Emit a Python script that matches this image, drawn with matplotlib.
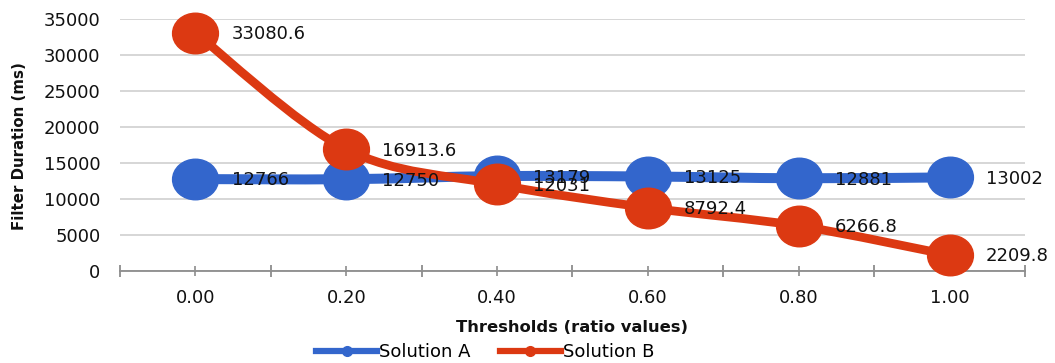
import matplotlib
matplotlib.use("Agg")
import matplotlib.pyplot as plt
import numpy as np
from matplotlib.path import Path
from matplotlib.patches import PathPatch
from matplotlib.lines import Line2D

categories = ["0.00", "0.20", "0.40", "0.60", "0.80", "1.00"]
solution_a = [12766, 12750, 13179, 13125, 12881, 13002]
solution_b = [33080.6, 16913.6, 12031, 8792.4, 6266.8, 2209.8]
labels_a = ["12766", "12750", "13179", "13125", "12881", "13002"]
labels_b = ["33080.6", "16913.6", "12031", "8792.4", "6266.8", "2209.8"]
yticks = [0, 5000, 10000, 15000, 20000, 25000, 30000, 35000]

BLUE = "#3366CC"
RED = "#DC3912"
W, H = 1055, 363
plt.rcParams["font.family"] = ["DejaVu Sans"]

fig = plt.figure(figsize=(W / 100, H / 100), dpi=100)
ax = fig.add_axes([120 / W, (H - 271) / H, 905 / W, 252 / H])
x = np.arange(len(categories))
ax.set_xlim(-0.5, len(categories) - 0.5)
ax.set_ylim(0, 35000)

# ellipse marker (reference is slightly stretched horizontally)
circ = Path.unit_circle()
ell = Path(circ.vertices * np.array([1.13, 1.0]), circ.codes)


def smooth_patch(xs, ys, color, lw, z):
    pts = ax.transData.transform(np.column_stack([xs, ys]))
    n = len(pts)
    verts = [pts[0]]
    codes = [Path.MOVETO]
    for i in range(n - 1):
        pm = pts[max(i - 1, 0)]
        p0 = pts[i]
        p1 = pts[i + 1]
        p2 = pts[min(i + 2, n - 1)]
        c1 = p0 + (p1 - pm) / 6.0
        c2 = p1 - (p2 - p0) / 6.0
        verts += [c1, c2, p1]
        codes += [Path.CURVE4] * 3
    verts = ax.transAxes.inverted().transform(np.array(verts))
    patch = PathPatch(Path(verts, codes), facecolor="none", edgecolor=color,
                      lw=lw, transform=ax.transAxes, zorder=z, clip_on=False,
                      capstyle="round", joinstyle="round")
    ax.add_patch(patch)


smooth_patch(x, solution_a, BLUE, 7.2, 3)
ax.plot(x, solution_a, linestyle="none", marker=ell, markersize=33,
        color=BLUE, zorder=4, clip_on=False)
smooth_patch(x, solution_b, RED, 6.3, 5)
ax.plot(x, solution_b, linestyle="none", marker=ell, markersize=33,
        color=RED, zorder=6, clip_on=False)

for xi, yi, t in zip(x, solution_a, labels_a):
    ax.annotate(t, (xi, yi), xytext=(26, -1), textcoords="offset points",
                ha="left", va="center", fontsize=13, color="#111111",
                zorder=10, annotation_clip=False)
for xi, yi, t in zip(x, solution_b, labels_b):
    ax.annotate(t, (xi, yi), xytext=(26, -1), textcoords="offset points",
                ha="left", va="center", fontsize=13, color="#111111",
                zorder=10, annotation_clip=False)

# axes styling
ax.set_yticks(yticks)
ax.set_yticklabels([str(v) for v in yticks])
ax.grid(axis="y", color="#CFCFCF", lw=1.2, zorder=0)
ax.set_axisbelow(True)
for s in ["top", "right", "left"]:
    ax.spines[s].set_visible(False)
ax.spines["bottom"].set_color("#8C8C8C")
ax.spines["bottom"].set_linewidth(1.3)
ax.tick_params(axis="y", length=0, pad=14, labelsize=13, labelcolor="#111111")
ax.set_xticks(x)
ax.set_xticklabels(categories)
ax.set_xticks(np.arange(-0.5, len(categories), 1.0), minor=True)
ax.tick_params(axis="x", which="major", direction="inout", length=6.5,
               width=1.2, color="#8C8C8C", pad=10, labelsize=13,
               labelcolor="#111111")
ax.tick_params(axis="x", which="minor", direction="inout", length=9,
               width=1.3, color="#8C8C8C")

fig.text(20 / W, 1 - 146 / H, "Filter Duration (ms)", rotation=90,
         ha="center", va="center", fontsize=10.8, fontweight="bold",
         color="#111111")
fig.text(572 / W, 1 - 327 / H, "Thresholds (ratio values)", ha="center",
         va="center", fontsize=11.8, fontweight="bold", color="#111111")

handles = [
    Line2D([], [], color=BLUE, lw=4.5, marker="o", markersize=7),
    Line2D([], [], color=RED, lw=4.5, marker="o", markersize=7),
]
fig.legend(handles, ["Solution A", "Solution B"], loc="center",
           bbox_to_anchor=(485 / W, 1 - 352 / H), ncol=2, frameon=False,
           fontsize=13, handlelength=3.4, handletextpad=0.1,
           columnspacing=1.6, borderpad=0, borderaxespad=0)

fig.savefig("out.png", dpi=100)
